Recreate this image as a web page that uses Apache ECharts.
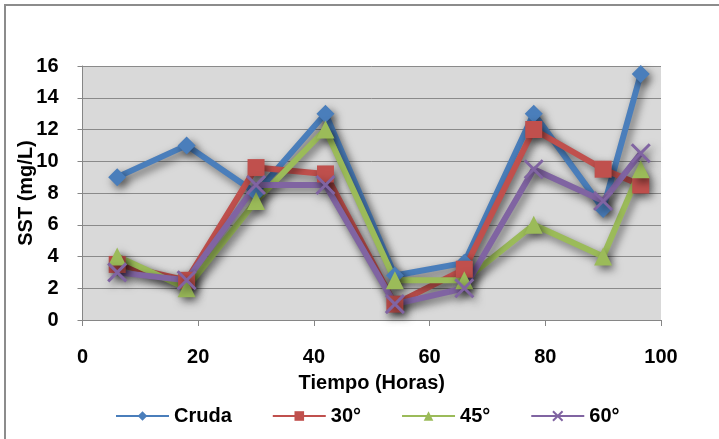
<!DOCTYPE html>
<html>
<head>
<meta charset="utf-8">
<script src="https://cdn.jsdelivr.net/npm/echarts@6/dist/echarts.min.js"></script>
<style>
  html, body { margin: 0; padding: 0; background: #ffffff; }
  #chart { width: 719px; height: 439px; }
</style>
</head>
<body>
<div id="chart"></div>
<script>
// Sampling times (hours)
const horas = [6, 18, 30, 42, 54, 66, 78, 90, 96.5];

// SST (mg/L) per treatment
const cruda = [9, 11, 8, 13, 2.8, 3.6, 13, 7, 15.5];
const s30   = [3.5, 2.5, 9.6, 9.2, 1, 3.2, 12, 9.5, 8.5];
const s45   = [4, 2, 7.5, 12, 2.5, 2.5, 6, 4, 9.5];
const s60   = [3, 2.5, 8.5, 8.5, 1, 2, 9.5, 7.5, 10.5];

const seriesNames = ['Cruda', '30°', '45°', '60°'];
const xTicks = [0, 20, 40, 60, 80, 100];
const yTicks = [0, 2, 4, 6, 8, 10, 12, 14, 16];

const FONT = 'Liberation Sans, Arial, sans-serif';
const shadow = { shadowBlur: 9, shadowColor: 'rgba(0,0,0,0.55)', shadowOffsetX: 3, shadowOffsetY: 4 };
const noShadow = { shadowBlur: 0, shadowOffsetX: 0, shadowOffsetY: 0, shadowColor: 'transparent' };

function pairs(ys) { return horas.map((h, i) => [h, ys[i]]); }

function mkSeries(name, ys, color, symbol, size, extraItem) {
  return {
    name: name,
    type: 'line',
    data: pairs(ys),
    symbol: symbol,
    symbolSize: size,
    showAllSymbol: true,
    lineStyle: Object.assign({ color: color, width: 6 }, shadow),
    itemStyle: Object.assign({ color: color }, shadow, extraItem || {}),
    emphasis: { disabled: true },
    animation: false
  };
}

const chart = echarts.init(document.getElementById('chart'), null, { renderer: 'canvas' });
chart.setOption({
  backgroundColor: '#ffffff',
  animation: false,
  graphic: [{
    type: 'rect',
    shape: { x: 5, y: 5, width: 900, height: 600 },
    style: { fill: 'none', stroke: '#8c8c8c', lineWidth: 2 },
    silent: true
  }],
  grid: {
    left: 82.5, right: 58, top: 66, bottom: 119,
    containLabel: false, outerBoundsMode: 'none',
    show: true, backgroundColor: '#d9d9d9', borderWidth: 0
  },
  xAxis: {
    type: 'value',
    min: xTicks[0], max: xTicks[xTicks.length - 1], interval: 20,
    name: 'Tiempo (Horas)', nameLocation: 'middle', nameGap: 53, nameMoveOverlap: false,
    nameTextStyle: { fontFamily: FONT, fontSize: 20, fontWeight: 'bold', color: '#000' },
    axisLine: { show: true, lineStyle: { color: '#868686', width: 1 } },
    axisTick: { show: true, length: 6, lineStyle: { color: '#868686' } },
    axisLabel: { margin: 27, fontFamily: FONT, fontSize: 20, fontWeight: 'bold', color: '#000' },
    splitLine: { show: false }
  },
  yAxis: {
    type: 'value',
    min: yTicks[0], max: yTicks[yTicks.length - 1], interval: 2,
    name: 'SST (mg/L)', nameLocation: 'middle', nameGap: 46, nameMoveOverlap: false,
    nameTextStyle: { fontFamily: FONT, fontSize: 20, fontWeight: 'bold', color: '#000' },
    axisLine: { show: true, lineStyle: { color: '#868686', width: 1 } },
    axisTick: { show: true, length: 5, lineStyle: { color: '#868686' } },
    axisLabel: { margin: 24, fontFamily: FONT, fontSize: 20, fontWeight: 'bold', color: '#000' },
    splitLine: { show: true, lineStyle: { color: '#8a8a8a', width: 1 } }
  },
  legend: {
    left: 110, top: 401,
    itemWidth: 53, itemHeight: 12, itemGap: 40,
    textStyle: { fontFamily: FONT, fontSize: 20, fontWeight: 'bold', color: '#000' },
    data: seriesNames.map(n => ({
      name: n,
      itemStyle: Object.assign({}, noShadow),
      lineStyle: Object.assign({ width: 2 }, noShadow)
    }))
  },
  series: [
    mkSeries(seriesNames[0], cruda, '#4a7ebb', 'diamond', 18),
    mkSeries(seriesNames[1], s30, '#c0504d', 'rect', 17),
    mkSeries(seriesNames[2], s45, '#9bbb59', 'triangle', 18),
    mkSeries(seriesNames[3], s60, '#8064a2', 'path://M0,0 L10,10 M10,0 L0,10', 18,
      { color: 'transparent', borderColor: '#8064a2', borderWidth: 3 })
  ]
});
</script>
</body>
</html>
